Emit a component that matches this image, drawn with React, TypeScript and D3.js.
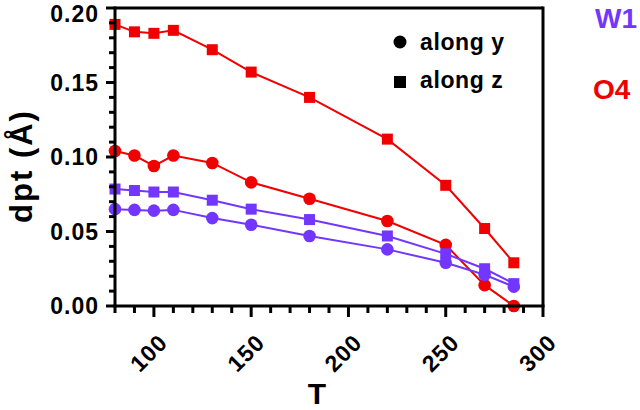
import * as d3 from "d3";
import React from "react";

// temperatures (T)
const temps = [80, 90, 100, 110, 130, 150, 180, 220, 250, 270, 285];

// dpt (Å) values
const o4AlongZ = [0.189, 0.184, 0.183, 0.185, 0.172, 0.157, 0.14, 0.112, 0.081, 0.052, 0.029];
const o4AlongY = [0.104, 0.101, 0.094, 0.101, 0.096, 0.083, 0.072, 0.057, 0.041, 0.014, 0.0];
const w1AlongZ = [0.0785, 0.0775, 0.0765, 0.0765, 0.071, 0.065, 0.058, 0.047, 0.035, 0.025, 0.015];
const w1AlongY = [0.065, 0.0645, 0.064, 0.0645, 0.059, 0.0545, 0.047, 0.038, 0.029, 0.021, 0.013];

const xMajor = [100, 150, 200, 250, 300];
const yMajor = [0, 0.05, 0.1, 0.15, 0.2];

const PURPLE = "#7236ff";
const RED = "#f00000";
const FONT = "'Liberation Sans', Arial, sans-serif";

const width = 640;
const height = 410;
const margin = { top: 8, right: 97, bottom: 104, left: 115 };

const App: React.FC = () => {
  const x = d3.scaleLinear().domain([80, 300]).range([margin.left, width - margin.right]);
  const y = d3.scaleLinear().domain([0, 0.2]).range([height - margin.bottom, margin.top]);

  const xMinor = d3.range(80, 301, 10).filter((t) => !xMajor.includes(t));
  const yMinor = d3.range(0, 21).map((v) => v / 100).filter((v) => Math.round(v * 100) % 5 !== 0);

  const line = d3
    .line<number>()
    .x((_, i) => x(temps[i]))
    .y((d) => y(d));

  const series = [
    { vals: o4AlongZ, color: RED, shape: "square" },
    { vals: o4AlongY, color: RED, shape: "circle" },
    { vals: w1AlongZ, color: PURPLE, shape: "square" },
    { vals: w1AlongY, color: PURPLE, shape: "circle" },
  ];

  const x0 = x(80);
  const x1 = x(300);
  const y0 = y(0);
  const y1 = y(0.2);

  return (
    <svg
      width={width}
      height={height}
      style={{ position: "absolute", left: 0, top: 0, background: "#fff" }}
      fontFamily={FONT}
      fontWeight="bold"
    >
      {/* series */}
      {series.map((s, si) => (
        <g key={si}>
          <path d={line(s.vals) || ""} fill="none" stroke={s.color} strokeWidth={2} />
          {s.vals.map((v, i) =>
            s.shape === "circle" ? (
              <circle key={i} cx={x(temps[i])} cy={y(v)} r={6.3} fill={s.color} />
            ) : (
              <rect key={i} x={x(temps[i]) - 5.5} y={y(v) - 5.5} width={11} height={11} fill={s.color} />
            )
          )}
        </g>
      ))}

      {/* frame */}
      <line x1={x0} x2={x1} y1={y1} y2={y1} stroke="#000" strokeWidth={3} />
      <line x1={x1} x2={x1} y1={y1 - 1.5} y2={y0} stroke="#000" strokeWidth={3} />
      <line x1={x0} x2={x0} y1={y1 - 1.5} y2={y0 + 1.5} stroke="#000" strokeWidth={3} />
      <line x1={x0 - 1.5} x2={x1 + 1.5} y1={y0} y2={y0} stroke="#000" strokeWidth={3} />

      {/* y ticks */}
      {yMajor.map((v) => (
        <g key={"ym" + v}>
          <line x1={x0 - 9} x2={x0} y1={y(v)} y2={y(v)} stroke="#000" strokeWidth={3} />
          <text
            x={99}
            y={Math.max(y(v), 13.5)}
            dy="0.36em"
            textAnchor="end"
            fontSize={23}
            letterSpacing={1}
          >
            {v.toFixed(2)}
          </text>
        </g>
      ))}
      {yMinor.map((v) => (
        <line key={"yn" + v} x1={x0 - 6} x2={x0} y1={y(v)} y2={y(v)} stroke="#000" strokeWidth={3} />
      ))}

      {/* x ticks */}
      {xMajor.map((t) => (
        <g key={"xm" + t}>
          <line x1={x(t)} x2={x(t)} y1={y0} y2={y0 + 11} stroke="#000" strokeWidth={3} />
          <text
            transform={`translate(${x(t) + 15},${y0 + 38}) rotate(-45)`}
            textAnchor="end"
            fontSize={23}
            letterSpacing={1}
          >
            {t}
          </text>
        </g>
      ))}
      {xMinor.map((t) => (
        <line key={"xn" + t} x1={x(t)} x2={x(t)} y1={y0} y2={y0 + 7} stroke="#000" strokeWidth={3} />
      ))}

      {/* axis titles */}
      <text x={317} y={404} textAnchor="middle" fontSize={30}>
        T
      </text>
      <text transform="translate(32,166) rotate(-90)" textAnchor="middle" fontSize={31} letterSpacing={2}>
        dpt (Å)
      </text>

      {/* legend */}
      <circle cx={400} cy={42} r={6.5} fill="#000" />
      <text x={420} y={50} fontSize={23} letterSpacing={0.6}>
        along y
      </text>
      <rect x={394} y={76} width={12} height={12} fill="#000" />
      <text x={420} y={88} fontSize={23} letterSpacing={0.6}>
        along z
      </text>

      <text x={595} y={28} fontSize={28} fill={PURPLE}>
        W1
      </text>
      <text x={593} y={99} fontSize={28} fill={RED}>
        O4
      </text>
    </svg>
  );
};

export default App;
